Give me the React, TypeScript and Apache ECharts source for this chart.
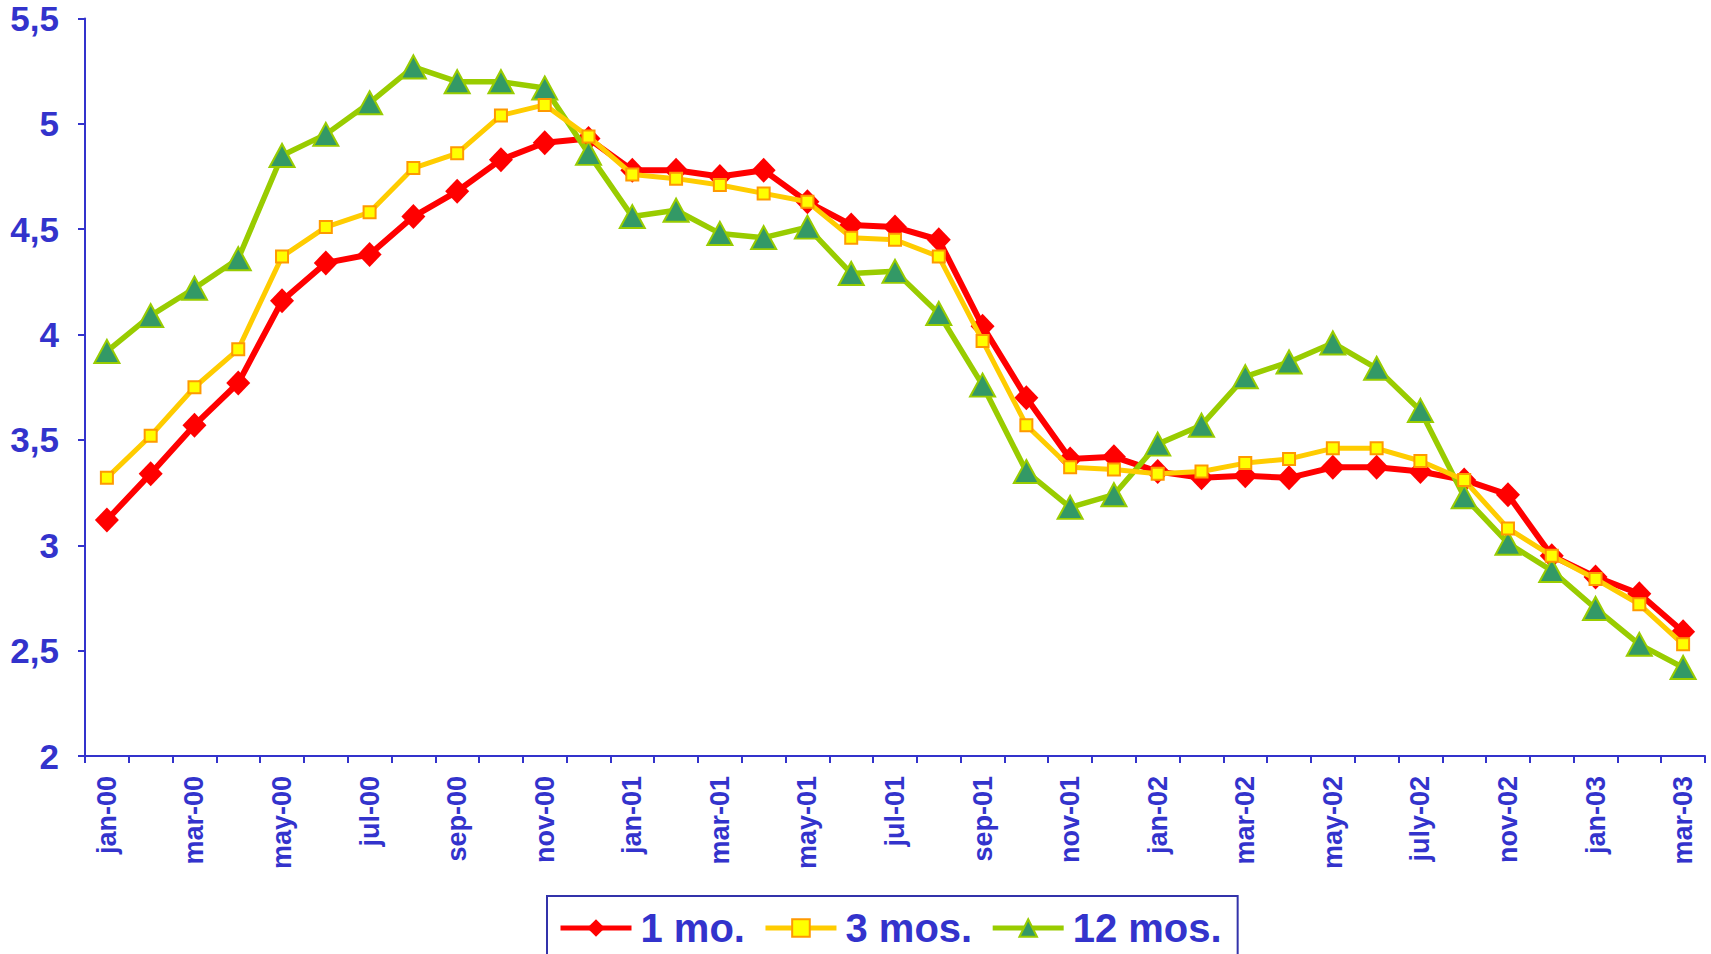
import React, { useEffect, useRef } from "react";
import * as echarts from "echarts";

const categories = [
  "jan-00", "feb-00", "mar-00", "apr-00", "may-00", "jun-00", "jul-00", "aug-00", "sep-00", "oct-00", "nov-00", "dec-00",
  "jan-01", "feb-01", "mar-01", "apr-01", "may-01", "jun-01", "jul-01", "aug-01", "sep-01", "oct-01", "nov-01", "dec-01",
  "jan-02", "feb-02", "mar-02", "apr-02", "may-02", "jun-02", "july-02", "sep-02", "nov-02", "dec-02",
  "jan-03", "feb-03", "mar-03",
];

const oneMonth = [
  3.12, 3.34, 3.57, 3.77, 4.16, 4.34, 4.38, 4.56, 4.68, 4.83, 4.91, 4.93,
  4.78, 4.78, 4.75, 4.78, 4.63, 4.52, 4.51, 4.45, 4.04, 3.7, 3.41, 3.42,
  3.35, 3.32, 3.33, 3.32, 3.37, 3.37, 3.35, 3.31, 3.24, 2.95, 2.85, 2.77, 2.59,
];

const threeMonths = [
  3.32, 3.52, 3.75, 3.93, 4.37, 4.51, 4.58, 4.79, 4.86, 5.04, 5.09, 4.94,
  4.76, 4.74, 4.71, 4.67, 4.63, 4.46, 4.45, 4.37, 3.97, 3.57, 3.37, 3.36,
  3.34, 3.35, 3.39, 3.41, 3.46, 3.46, 3.4, 3.31, 3.08, 2.95, 2.84, 2.72, 2.53,
];

const twelveMonths = [
  3.92, 4.09, 4.22, 4.36, 4.85, 4.95, 5.1, 5.27, 5.2, 5.2, 5.17, 4.86,
  4.56, 4.59, 4.48, 4.46, 4.51, 4.29, 4.3, 4.1, 3.76, 3.35, 3.18, 3.24,
  3.48, 3.57, 3.8, 3.87, 3.96, 3.84, 3.64, 3.23, 3.01, 2.88, 2.7, 2.53, 2.42,
];

const seriesNames = ["1 mo.", "3 mos.", "12 mos."];

const BLUE = "#3333CC";
const FONT = "'Liberation Sans', Arial, sans-serif";

export default function App() {
  const ref = useRef<HTMLDivElement>(null);

  useEffect(() => {
    if (!ref.current) return;
    const chart = echarts.init(ref.current, null, { renderer: "svg" });
    chart.setOption({
      animation: false,
      backgroundColor: "#ffffff",
      textStyle: { fontFamily: FONT },
      grid: { left: 85, right: 6, top: 18.5, bottom: 198, containLabel: false },
      legend: {
        data: seriesNames,
        left: 547,
        top: 896,
        orient: "horizontal",
        borderColor: "#3333AA",
        borderWidth: 2,
        backgroundColor: "#ffffff",
        padding: [12, 16, 40, 11],
        itemWidth: 71,
        itemHeight: 22,
        itemGap: 18,
        lineStyle: { width: 5 },
        textStyle: {
          fontSize: 40,
          fontWeight: "bold",
          color: BLUE,
          fontFamily: FONT,
          padding: [0, 0, 0, 4],
        },
      },
      xAxis: {
        type: "category",
        data: categories,
        boundaryGap: true,
        axisLine: { lineStyle: { color: BLUE, width: 2 } },
        axisTick: { show: true, interval: 0, length: 7, lineStyle: { color: BLUE, width: 2 } },
        axisLabel: {
          interval: 1,
          rotate: 90,
          margin: 20,
          color: BLUE,
          fontSize: 27,
          fontWeight: "bold",
          fontFamily: FONT,
        },
        splitLine: { show: false },
      },
      yAxis: {
        type: "value",
        min: 2,
        max: 5.5,
        interval: 0.5,
        axisLine: { show: true, lineStyle: { color: BLUE, width: 2 } },
        axisTick: { show: true, length: 7, lineStyle: { color: BLUE, width: 2 } },
        axisLabel: {
          margin: 26,
          color: BLUE,
          fontSize: 35,
          fontWeight: "bold",
          fontFamily: FONT,
          formatter: (v: number) => String(v).replace(".", ","),
        },
        splitLine: { show: false },
      },
      series: [
        {
          name: seriesNames[0],
          type: "line",
          data: oneMonth,
          z: 2,
          symbol: "diamond",
          symbolSize: [24, 25],
          lineStyle: { color: "#FF0000", width: 6 },
          itemStyle: { color: "#FF0000", borderColor: "#FF0000", borderWidth: 0 },
        },
        {
          name: seriesNames[1],
          type: "line",
          data: threeMonths,
          z: 4,
          symbol: "rect",
          symbolSize: 12,
          lineStyle: { color: "#FFCC00", width: 5 },
          itemStyle: { color: "#FFFF00", borderColor: "#FF9900", borderWidth: 2 },
        },
        {
          name: seriesNames[2],
          type: "line",
          data: twelveMonths,
          z: 3,
          symbol: "triangle",
          symbolSize: [25, 23],
          lineStyle: { color: "#99CC00", width: 5.5 },
          itemStyle: { color: "#339966", borderColor: "#99CC00", borderWidth: 2 },
        },
      ],
    });
    return () => chart.dispose();
  }, []);

  return (
    <div
      ref={ref}
      style={{ position: "fixed", left: 0, top: 0, width: 1711, height: 954, background: "#fff" }}
    />
  );
}
